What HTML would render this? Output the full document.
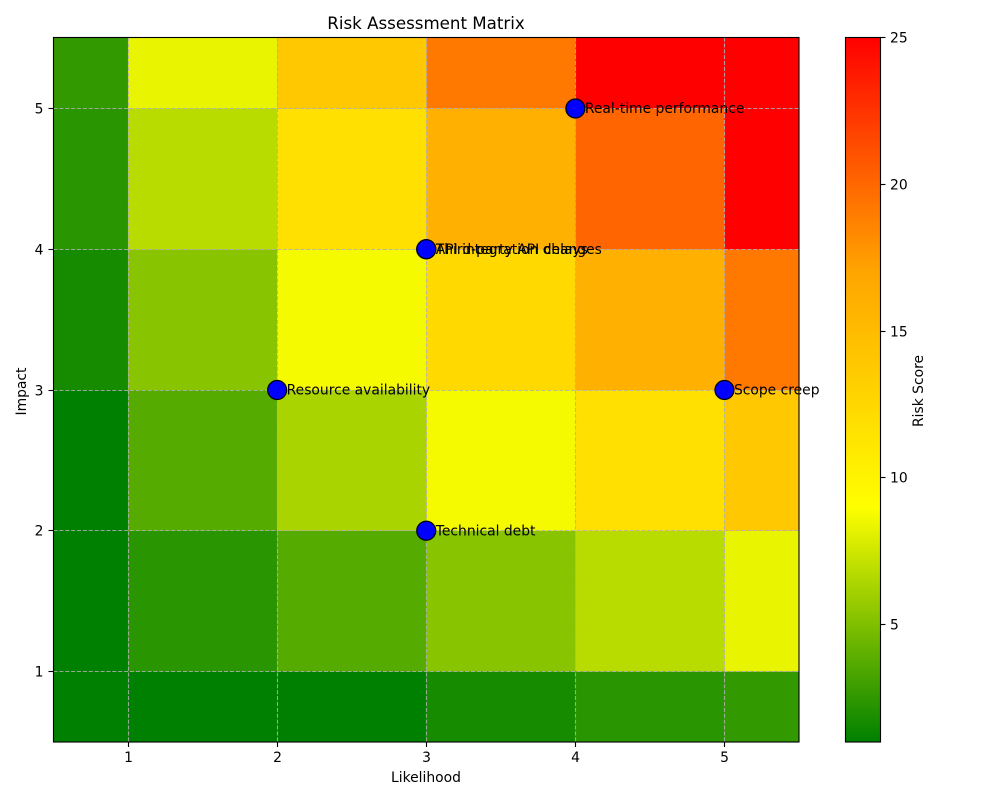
<!DOCTYPE html>
<html>
<head>
<meta charset="utf-8">
<title>Risk Assessment Matrix</title>
<style>
html,body{margin:0;padding:0;background:#fff;width:1000px;height:800px;overflow:hidden}
svg{display:block}
text{font-family:"DejaVu Sans","Liberation Sans",sans-serif;font-size:13.89px;fill:#000}
</style>
</head>
<body>
<svg id="chart" width="1000" height="800" viewBox="0 0 1000 800" xmlns="http://www.w3.org/2000/svg">
  <defs>
    <linearGradient id="cbar-gradient" x1="0" y1="1" x2="0" y2="0"></linearGradient>
  </defs>
  <rect x="0" y="0" width="1000" height="800" fill="#fff"></rect>
  <g id="cells"></g>
  <g id="grid"></g>
  <g id="points"></g>
  <g id="labels"></g>
  <g id="axes"></g>
  <g id="colorbar"></g>
  <text x="426" y="29" text-anchor="middle" style="font-size:16.67px">Risk Assessment Matrix</text>
  <text x="426" y="782" text-anchor="middle">Likelihood</text>
  <text transform="translate(26,391.5) rotate(-90)" text-anchor="middle">Impact</text>
  <text transform="translate(923,391) rotate(-90)" text-anchor="middle">Risk Score</text>
</svg>
<script>
const xEdges = [0.5, 1, 2, 3, 4, 5, 5.5];
const yEdges = [0.5, 1, 2, 3, 4, 5, 5.5];
const xTicks = [1, 2, 3, 4, 5];
const yTicks = [1, 2, 3, 4, 5];
const colorbarTicks = [5, 10, 15, 20, 25];
const colorDomain = [1, 25];
const colormap = [[0, 128, 0], [255, 255, 0], [255, 165, 0], [255, 0, 0]];
// Scores per impact band (bottom to top), each listing the likelihood bands left to right
const scoreRow0 = [1, 1, 1, 1.7, 2.3, 2.6];
const scoreRow1 = [1, 2.3, 3.7, 5.3, 6.8, 8.3];
const scoreRow2 = [1, 3.7, 6.3, 8.7, 11.8, 13.9];
const scoreRow3 = [1.7, 5.3, 8.7, 12.4, 16, 19.2];
const scoreRow4 = [2.3, 6.8, 11.8, 16, 20.1, 25];
const scoreRow5 = [2.6, 8.3, 13.9, 19.2, 25, 25];
const scoreRows = [scoreRow0, scoreRow1, scoreRow2, scoreRow3, scoreRow4, scoreRow5];
const riskNames = ["Technical debt", "Resource availability", "Third-party API changes", "API integration delays", "Real-time performance", "Scope creep"];
const riskLikelihood = [3, 2, 3, 3, 4, 5];
const riskImpact = [2, 3, 4, 4, 5, 3];

const NS = "http://www.w3.org/2000/svg";
function make(tag, attrs, parent) {
  const el = document.createElementNS(NS, tag);
  for (const k in attrs) el.setAttribute(k, attrs[k]);
  parent.appendChild(el);
  return el;
}
function xScale(v) { return 53.5 + (v - 0.5) * 149.1; }
function yScale(v) { return 108.5 + (5 - v) * 140.75; }
function cbarScale(v) { return 742 - (v - colorDomain[0]) / (colorDomain[1] - colorDomain[0]) * 704.5; }
function snap(p) { return Math.floor(p) + 0.5; }
function colorFor(v) {
  const t = Math.min(1, Math.max(0, (v - colorDomain[0]) / (colorDomain[1] - colorDomain[0])));
  const pos = t * (colormap.length - 1);
  const i = Math.min(colormap.length - 2, Math.floor(pos));
  const f = pos - i;
  const c = colormap[i].map((a, j) => Math.round(a + (colormap[i + 1][j] - a) * f));
  return "rgb(" + c.join(",") + ")";
}

const cellsG = document.getElementById("cells");
scoreRows.forEach((row, r) => {
  row.forEach((val, c) => {
    const x0 = xScale(xEdges[c]), x1 = xScale(xEdges[c + 1]);
    const y0 = Math.max(37.5, yScale(yEdges[r + 1]) - (r === 5 ? 1 : 0)), y1 = yScale(yEdges[r]);
    const cell = make("rect", {x: x0, y: y0, width: x1 - x0, height: y1 - y0, fill: colorFor(val), "shape-rendering": "crispEdges"}, cellsG);
    
    
  });
});

const gridG = document.getElementById("grid");
const gridStyle = {stroke: "#b0b0b0", "stroke-width": 1.11, "stroke-dasharray": "4.1 1.78", "stroke-opacity": 0.85};
xTicks.forEach(t => {
  const p = snap(xScale(t));
  const line = make("line", Object.assign({x1: p, x2: p, y1: 37.5, y2: 742}, gridStyle), gridG);
  
  
});
yTicks.forEach(t => {
  const p = snap(yScale(t));
  const line = make("line", Object.assign({x1: 53.5, x2: 799, y1: p, y2: p}, gridStyle), gridG);
  
  
});

const pointsG = document.getElementById("points");
const labelsG = document.getElementById("labels");
riskNames.forEach((name, i) => {
  const cx = xScale(riskLikelihood[i]), cy = yScale(riskImpact[i]);
  const dot = make("circle", {cx: cx, cy: cy, r: 9.5, fill: "#0000ff", stroke: "#000", "stroke-width": 1.2}, pointsG);
  
  
  const label = make("text", {x: cx + 9.5, y: cy + 4.5}, labelsG);
  label.textContent = name;
  
  
});

const axesG = document.getElementById("axes");
const frame = make("rect", {x: 53.5, y: 37.5, width: 745.5, height: 704.5, fill: "none", stroke: "#000", "stroke-width": 1.11}, axesG);


xTicks.forEach(t => {
  const p = snap(xScale(t));
  const mark = make("line", {x1: p, x2: p, y1: 742, y2: 747, stroke: "#000", "stroke-width": 1.11}, axesG);
  
  
  const lab = make("text", {x: p, y: 762, "text-anchor": "middle"}, axesG);
  lab.textContent = t;
  
  
});
yTicks.forEach(t => {
  const p = snap(yScale(t));
  const mark = make("line", {x1: 48.5, x2: 53.5, y1: p, y2: p, stroke: "#000", "stroke-width": 1.11}, axesG);
  
  
  const lab = make("text", {x: 43.5, y: p + 5, "text-anchor": "end"}, axesG);
  lab.textContent = t;
  
  
});

const grad = document.getElementById("cbar-gradient");
colormap.forEach((c, i) => {
  make("stop", {offset: i / (colormap.length - 1), "stop-color": "rgb(" + c.join(",") + ")"}, grad);
});
const cbarG = document.getElementById("colorbar");
const bar = make("rect", {x: 845.5, y: cbarScale(colorDomain[1]), width: 35, height: cbarScale(colorDomain[0]) - cbarScale(colorDomain[1]), fill: "url(#cbar-gradient)", stroke: "#000", "stroke-width": 1.11}, cbarG);


colorbarTicks.forEach(t => {
  const p = snap(cbarScale(t));
  const mark = make("line", {x1: 880.5, x2: 885.5, y1: p, y2: p, stroke: "#000", "stroke-width": 1.11}, cbarG);
  
  
  const lab = make("text", {x: 890, y: p + 5}, cbarG);
  lab.textContent = t;
  
  
});
</script>
</body>
</html>
